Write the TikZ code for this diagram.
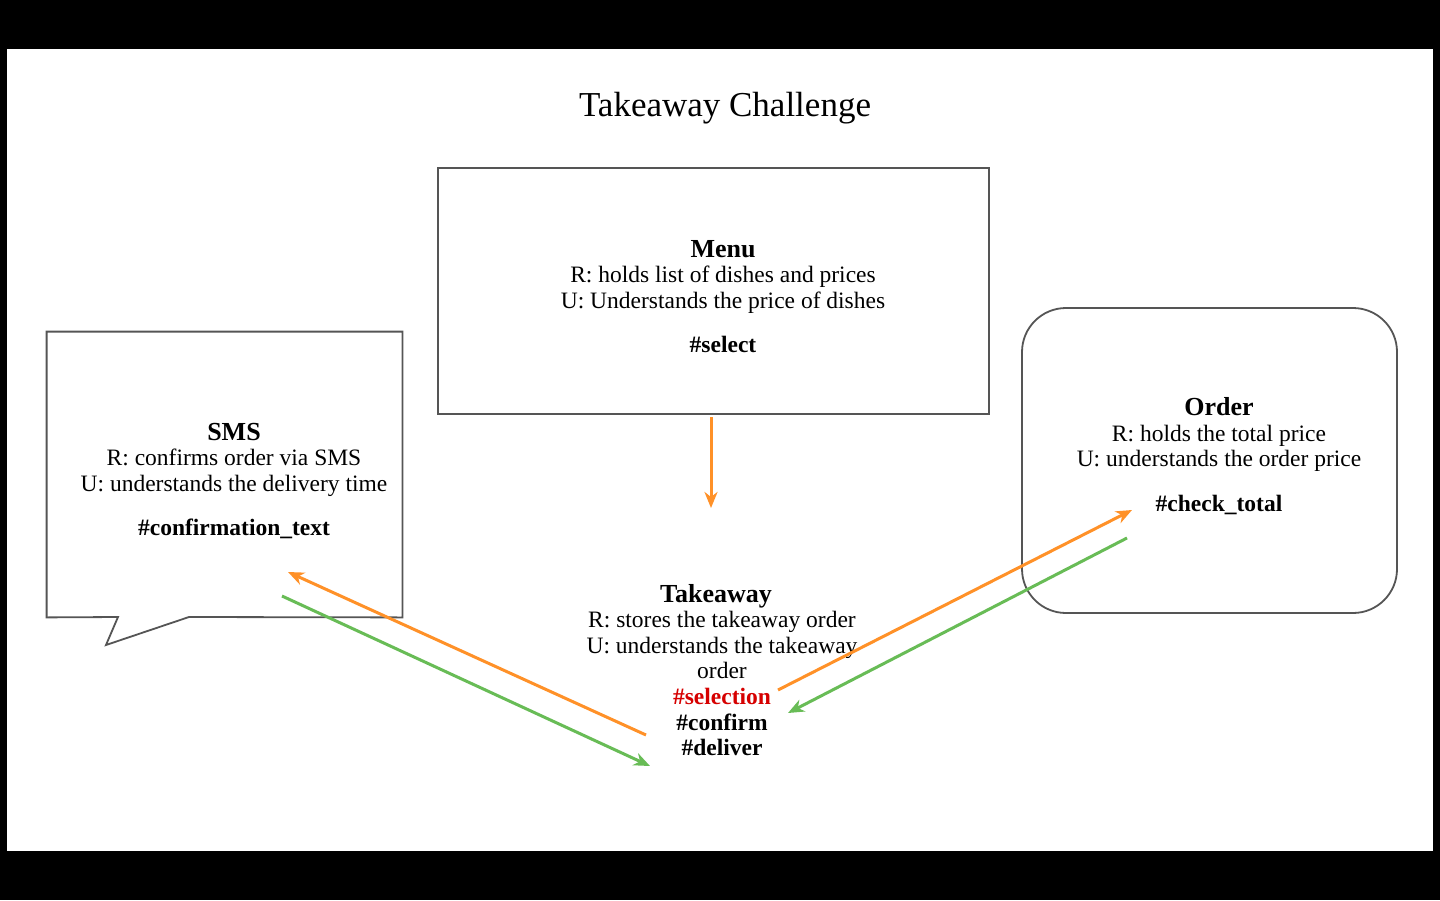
\documentclass[tikz,border=0pt]{standalone}
\usepackage{fontspec}
\setmainfont{Liberation Serif}
\usetikzlibrary{arrows.meta}

\definecolor{flowOrange}{RGB}{255,145,40}
\definecolor{flowGreen}{RGB}{104,188,86}
\definecolor{hashRed}{RGB}{214,0,0}
\definecolor{boxGray}{RGB}{85,85,85}

\newcommand{\bodyfont}{\fontsize{11.75}{12.8}\selectfont}
\newcommand{\headfont}{\fontsize{13}{13}\selectfont\bfseries}

\begin{document}
\begin{tikzpicture}[x=0.5pt,y=-0.5pt,>={Stealth[length=8pt,width=6.5pt,inset=2.5pt]},
  boxline/.style={draw=boxGray,line width=0.9pt},
  cardtext/.style={align=center,font=\bodyfont,inner sep=0pt},
  sendarrow/.style={flowOrange,line width=1.5pt,->},
  replyarrow/.style={flowGreen,line width=1.5pt,->}]

  % 背景:黑边 + 白色画布
  \fill[black] (0,0) rectangle (1440,900);
  \fill[white] (7,49) rectangle (1433,851);

  % 标题
  \node[font=\fontsize{17.5}{20}\selectfont] (title) at (725,108) {Takeaway Challenge};

  % Menu:矩形
  \node[boxline,minimum width=275.5pt,minimum height=123pt] (menubox) at (713.5,291) {};
  \node[cardtext] (menu) at (723,296.5) {{\headfont Menu}\\R: holds list of dishes and prices\\U: Understands the price of dishes\\[9.5pt]\textbf{\#select}};

  % SMS:对话框(带尾巴)
  \node[minimum width=177.5pt,minimum height=142.5pt,inner sep=0pt] (smsbox) at (224.5,474.5) {};
  \coordinate (tailL) at (118,617);
  \coordinate (tailTip) at (106,645);
  \coordinate (tailR) at (189,617);
  \draw[boxline,fill=white] (smsbox.south west) -- (smsbox.north west) -- (smsbox.north east)
    -- (smsbox.south east) -- (tailR) -- (tailTip) -- (tailL) -- cycle;
  \node[cardtext] (sms) at (234,481) {{\headfont SMS}\\R: confirms order via SMS\\U: understands the delivery time\\[9.5pt]\textbf{\#confirmation\_text}};

  % Order:圆角矩形
  \node[boxline,rounded corners=22pt,minimum width=187.5pt,minimum height=152.5pt] (orderbox) at (1209.5,460.5) {};
  \node[cardtext] (order) at (1219,456) {{\headfont Order}\\R: holds the total price\\U: understands the order price\\[9.5pt]\textbf{\#check\_total}};

  % Takeaway:无边框
  \node[cardtext] (takeaway) at (722,670) {{\headfont Takeaway}\hspace*{6pt}\\R: stores the takeaway order\hspace*{6pt}\\U: understands the takeaway\\order\\\textcolor{hashRed}{\textbf{\#selection}}\\\textbf{\#confirm}\\\textbf{\#deliver}};

  % 箭头端点
  \coordinate (menuOut) at (711,417);
  \coordinate (takeIn) at (711,508);
  \coordinate (takeToSms) at (646,735);
  \coordinate (smsIn) at (288,572);
  \coordinate (smsOut) at (282,596);
  \coordinate (takeFromSms) at (650,766);
  \coordinate (takeToOrder) at (778,690);
  \coordinate (orderIn) at (1132,510);
  \coordinate (orderOut) at (1127,538);
  \coordinate (takeFromOrder) at (788,713);

  % 箭头
  \draw[sendarrow] (menuOut) -- (takeIn);
  \draw[sendarrow] (takeToSms) -- (smsIn);
  \draw[replyarrow] (smsOut) -- (takeFromSms);
  \draw[sendarrow] (takeToOrder) -- (orderIn);
  \draw[replyarrow] (orderOut) -- (takeFromOrder);

\end{tikzpicture}
\end{document}
